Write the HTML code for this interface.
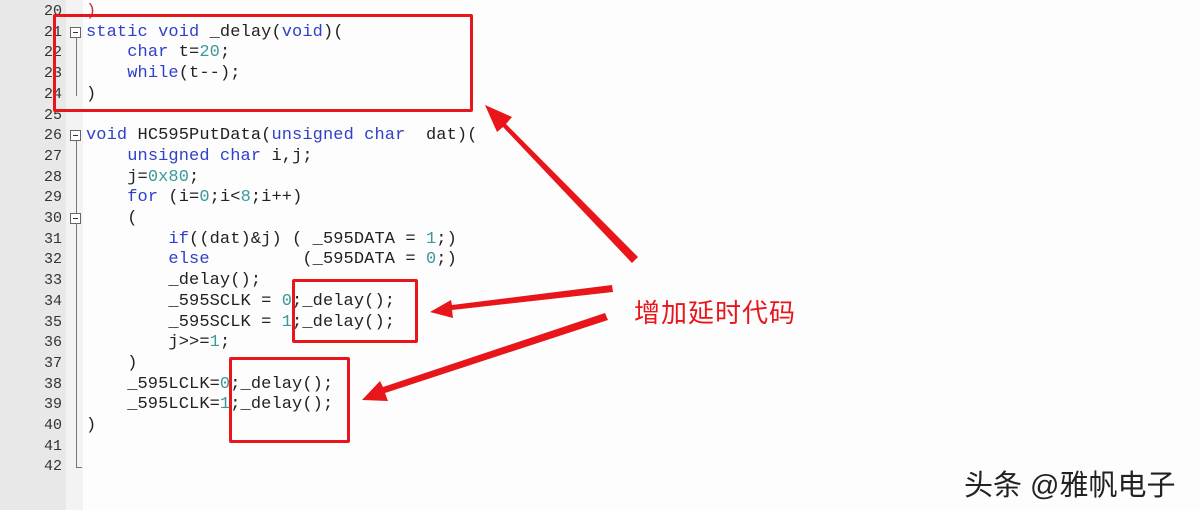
<!DOCTYPE html>
<html><head><meta charset="utf-8"><style>
html,body{margin:0;padding:0}
body{width:1200px;height:510px;position:relative;overflow:hidden;background:#fdfdfe;font-family:"Liberation Mono",monospace}
.g1{position:absolute;left:0;top:0;width:66px;height:510px;background:#e8e8e9}
.g2{position:absolute;left:66px;top:0;width:17px;height:510px;background:#f3f3f4}
.ln{position:absolute;left:0;width:62px;text-align:right;font-size:15px;color:#333;line-height:20.7px}
.cd{position:absolute;left:86px;font-size:17px;color:#222;line-height:20.7px;white-space:pre;letter-spacing:0.1px}
.k{color:#3040c8}.n{color:#3a9a9a}
.box{position:absolute;border:3px solid #e8161a;border-radius:2px}
.fold{position:absolute;left:70px;width:9px;height:9px;border:1px solid #666;background:#fff}
.fold:after{content:"";position:absolute;left:2px;top:4px;width:5px;height:1px;background:#333}
</style></head><body>
<div class="g1"></div><div class="g2"></div>
<div style="position:absolute;left:76px;top:38px;width:1px;height:58px;background:#777"></div>
<div style="position:absolute;left:76px;top:141px;width:1px;height:282px;background:#777"></div>
<div style="position:absolute;left:76px;top:420px;width:1px;height:48px;background:#777"></div>
<div style="position:absolute;left:76px;top:467px;width:6px;height:1px;background:#777"></div>
<div class="fold" style="top:27px"></div>
<div class="fold" style="top:130px"></div>
<div class="fold" style="top:213px"></div>
<div class="ln" style="top:2px">20<br>21<br>22<br>23<br>24<br>25<br>26<br>27<br>28<br>29<br>30<br>31<br>32<br>33<br>34<br>35<br>36<br>37<br>38<br>39<br>40<br>41<br>42</div>
<div class="cd" style="top:2px"><span style="color:#c33">)</span>
<span class="k">static void</span> _delay(<span class="k">void</span>)(
    <span class="k">char</span> t=<span class="n">20</span>;
    <span class="k">while</span>(t--);
)

<span class="k">void</span> HC595PutData(<span class="k">unsigned char</span>  dat)(
    <span class="k">unsigned char</span> i,j;
    j=<span class="n">0x80</span>;
    <span class="k">for</span> (i=<span class="n">0</span>;i&lt;<span class="n">8</span>;i++)
    (
        <span class="k">if</span>((dat)&amp;j) ( _595DATA = <span class="n">1</span>;)
        <span class="k">else</span>         (_595DATA = <span class="n">0</span>;)
        _delay();
        _595SCLK = <span class="n">0</span>;_delay();
        _595SCLK = <span class="n">1</span>;_delay();
        j&gt;&gt;=<span class="n">1</span>;
    )
    _595LCLK=<span class="n">0</span>;_delay();
    _595LCLK=<span class="n">1</span>;_delay();
)</div>
<div class="box" style="left:53px;top:14px;width:414px;height:92px"></div>
<div class="box" style="left:292px;top:279px;width:120px;height:58px"></div>
<div class="box" style="left:229px;top:357px;width:115px;height:80px"></div>
<svg width="1200" height="510" style="position:absolute;left:0;top:0">
<g fill="#e8161a">
<polygon points="632,263 638,257 506,124 512,117 485,105 497,132 503,127"/>
<polygon points="612,285 613,292 452,310 453,318 430,312 451,300 452,305"/>
<polygon points="605,313 608,320 385,393 388,401 362,400 380,381 383,387"/>
</g></svg>
<div style="position:absolute;left:634px;top:293px;font-family:'Liberation Sans','Noto Sans CJK SC',sans-serif;font-size:26px;color:#e8161a;letter-spacing:1px">增加延时代码</div>
<div style="position:absolute;left:964px;top:462px;font-family:'Liberation Sans','Noto Sans CJK SC',sans-serif;font-size:29px;color:#222">头条 @雅帆电子</div>
</body></html>
